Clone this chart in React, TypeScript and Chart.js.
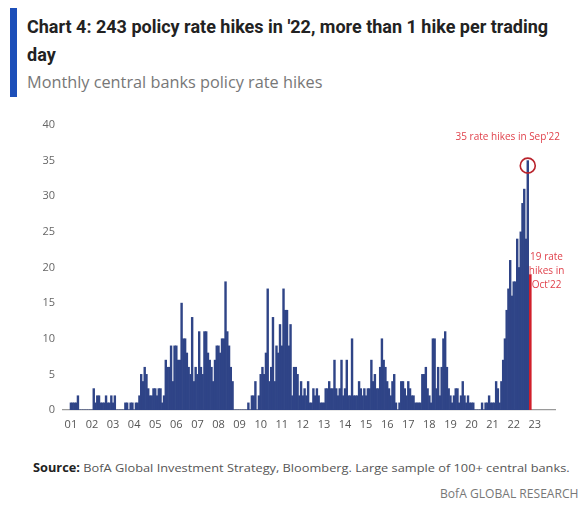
import React, { useEffect, useLayoutEffect, useRef, useState } from "react";
import { Chart, registerables } from "chart.js";

Chart.register(...registerables);

// ---- data: monthly central bank policy rate hikes, Jan 2001 .. Oct 2022 ----
const hikes2001 = [1, 1, 1, 1, 2, 0, 0, 0, 0, 0, 0, 0];
const hikes2002 = [0, 3, 1, 2, 2, 1, 1, 1, 2, 1, 1, 2];
const hikes2003 = [1, 2, 0, 0, 0, 0, 0, 1, 1, 0, 1, 1];
const hikes2004 = [0, 1, 1, 2, 5, 4, 6, 5, 3, 2, 2, 3];
const hikes2005 = [3, 2, 3, 3, 1, 2, 7, 6, 6, 9, 4, 9];
const hikes2006 = [9, 7, 7, 15, 10, 10, 8, 6, 5, 13, 4, 6];
const hikes2007 = [5, 11, 6, 5, 11, 11, 8, 7, 6, 4, 7, 9];
const hikes2008 = [9, 8, 10, 10, 18, 11, 9, 6, 4, 0, 0, 0];
const hikes2009 = [0, 0, 0, 0, 0, 1, 0, 2, 2, 4, 0, 2];
const hikes2010 = [5, 6, 5, 8, 17, 4, 6, 13, 4, 9, 8, 12];
const hikes2011 = [9, 17, 14, 14, 9, 12, 2, 6, 6, 5, 2, 4];
const hikes2012 = [2, 3, 2, 4, 1, 1, 3, 2, 3, 2, 1, 1];
const hikes2013 = [1, 3, 3, 4, 3, 3, 7, 3, 2, 3, 7, 2];
const hikes2014 = [3, 7, 2, 2, 10, 2, 2, 2, 4, 3, 2, 3];
const hikes2015 = [2, 3, 3, 7, 4, 5, 3, 3, 6, 10, 7, 6];
const hikes2016 = [4, 3, 2, 4, 5, 1, 0, 1, 4, 4, 3, 2];
const hikes2017 = [4, 3, 2, 2, 1, 1, 1, 1, 5, 5, 6, 3];
const hikes2018 = [2, 1, 10, 10, 3, 6, 2, 6, 10, 11, 6, 3];
const hikes2019 = [2, 1, 2, 3, 3, 1, 2, 4, 2, 1, 2, 1];
const hikes2020 = [1, 1, 0, 0, 0, 0, 1, 0, 1, 1, 2, 1];
const hikes2021 = [1, 1, 4, 3, 1, 4, 7, 10, 14, 17, 21, 16];
const hikes2022 = [18, 18, 24, 20, 25, 29, 31, 24, 35, 19];

const yearTickLabels = [
  "01", "02", "03", "04", "05", "06", "07", "08", "09", "10", "11", "12",
  "13", "14", "15", "16", "17", "18", "19", "20", "21", "22", "23",
];
const yTickValues = [0, 5, 10, 15, 20, 25, 30, 35, 40];

const peakText = "35 rate hikes in Sep'22";
const lastTextLines = ["19 rate", "hikes in", "Oct'22"];

const titleLine1 = "Chart 4: 243 policy rate hikes in '22, more than 1 hike per trading";
const titleLine2 = "day";
const subtitleText = "Monthly central banks policy rate hikes";
const sourceBold = "Source:";
const sourceRest = " BofA Global Investment Strategy, Bloomberg. Large sample of 100+ central banks.";
const footerText = "BofA GLOBAL RESEARCH";

const monthly: number[] = [
  ...hikes2001, ...hikes2002, ...hikes2003, ...hikes2004, ...hikes2005,
  ...hikes2006, ...hikes2007, ...hikes2008, ...hikes2009, ...hikes2010,
  ...hikes2011, ...hikes2012, ...hikes2013, ...hikes2014, ...hikes2015,
  ...hikes2016, ...hikes2017, ...hikes2018, ...hikes2019, ...hikes2020,
  ...hikes2021, ...hikes2022,
];

const lastIndex = monthly.length - 1; // Oct 2022
const peakIndex = lastIndex - 1; // Sep 2022

const BAR_BLUE = "#2f4487";
const BAR_RED = "#d11f2b";
const ANNOT_RED = "#e0414b";
const SANS = '"Open Sans", "Noto Sans", sans-serif';

function FitLines({
  lines,
  width,
  style,
  lineHeight,
}: {
  lines: React.ReactNode[];
  width: number;
  style: React.CSSProperties;
  lineHeight: number;
}) {
  const ref = useRef<HTMLSpanElement>(null);
  const [scale, setScale] = useState(1);
  useLayoutEffect(() => {
    const el = ref.current;
    if (!el) return;
    const w = el.offsetWidth;
    if (w > 0) setScale(width / w);
  }, [width]);
  return (
    <div style={{ ...style, lineHeight: `${lineHeight}px`, whiteSpace: "nowrap" }}>
      {lines.map((ln, k) => (
        <div key={k} style={{ height: lineHeight }}>
          <span
            ref={k === 0 ? ref : undefined}
            style={{
              display: "inline-block",
              transformOrigin: "left center",
              transform: `scaleX(${scale})`,
            }}
          >
            {ln}
          </span>
        </div>
      ))}
    </div>
  );
}

const annotationPlugin = {
  id: "rateAnnotations",
  afterDatasetsDraw(chart: any) {
    const { ctx, scales } = chart;
    const xs = scales.x;
    const ys = scales.y;
    const px = xs.getPixelForValue(peakIndex);
    const py = ys.getPixelForValue(monthly[peakIndex]);
    const lx = xs.getPixelForValue(lastIndex);
    const ly = ys.getPixelForValue(monthly[lastIndex]);
    ctx.save();
    ctx.strokeStyle = "#b9232c";
    ctx.lineWidth = 1.6;
    ctx.beginPath();
    ctx.arc(px, py + 5, 7.5, 0, Math.PI * 2);
    ctx.stroke();
    ctx.fillStyle = ANNOT_RED;
    ctx.font = `10px ${SANS}`;
    ctx.textAlign = "center";
    ctx.textBaseline = "middle";
    ctx.fillText(peakText, px - 20, py - 23);
    lastTextLines.forEach((t, k) => {
      ctx.fillText(t, lx + 17, ly - 17 + k * 14);
    });
    ctx.restore();
  },
};

function RateChart() {
  const canvasRef = useRef<HTMLCanvasElement>(null);
  useEffect(() => {
    const canvas = canvasRef.current;
    if (!canvas) return;
    const blueData = monthly.map((v, i) => ({ x: i, y: i === lastIndex ? null : v }));
    const redData = [{ x: lastIndex, y: monthly[lastIndex] }];
    const tickFont = { family: SANS, size: 11 };
    const chart = new Chart(canvas, {
      type: "bar",
      data: {
        datasets: [
          {
            data: blueData as any,
            backgroundColor: BAR_BLUE,
            barPercentage: 1,
            categoryPercentage: 1,
            grouped: false,
          } as any,
          {
            data: redData as any,
            backgroundColor: BAR_RED,
            barThickness: 3.5,
            grouped: false,
          } as any,
        ],
      },
      options: {
        animation: false,
        responsive: false,
        maintainAspectRatio: false,
        layout: { autoPadding: false, padding: { left: 0, right: 28, top: 25, bottom: 0 } },
        plugins: {
          legend: { display: false },
          tooltip: { enabled: false },
        },
        scales: {
          x: {
            type: "linear",
            offset: false,
            min: -4.5,
            max: 275.5,
            grid: { display: false, drawTicks: false, offset: false },
            border: { display: true, color: "#9a9a9a", width: 1.2 },
            afterBuildTicks: (s: any) => {
              s.ticks = yearTickLabels.map((_, k) => ({ value: k * 12 }));
            },
            afterFit: (s: any) => {
              s.height = 30;
            },
            ticks: {
              autoSkip: false,
              maxRotation: 0,
              color: "#555",
              font: tickFont,
              padding: 8,
              callback: (_v: any, idx: number) => yearTickLabels[idx],
            },
          },
          y: {
            min: 0,
            max: 40,
            grid: { display: false, drawTicks: false },
            border: { display: false },
            afterBuildTicks: (s: any) => {
              s.ticks = yTickValues.map((v) => ({ value: v }));
            },
            afterFit: (s: any) => {
              s.width = 63;
            },
            ticks: {
              color: "#666",
              font: tickFont,
              padding: 8,
            },
          },
        },
      } as any,
      plugins: [annotationPlugin],
    });
    return () => chart.destroy();
  }, []);
  return (
    <canvas
      ref={canvasRef}
      width={583}
      height={340}
      style={{ position: "absolute", left: 0, top: 100, width: 583, height: 340 }}
    />
  );
}

export default function App() {
  return (
    <div
      style={{
        position: "absolute",
        left: 0,
        top: 0,
        width: 583,
        height: 506,
        background: "#fff",
        overflow: "hidden",
        fontFamily: SANS,
      }}
    >
      <div style={{ position: "absolute", left: 10, top: 8, width: 7, height: 89, background: "#1d4fb9" }} />
      <FitLines
        lines={[titleLine1, titleLine2]}
        width={521}
        lineHeight={28}
        style={{
          position: "absolute",
          left: 27,
          top: 13,
          fontFamily: 'Roboto, "Open Sans", sans-serif',
          fontWeight: 700,
          fontSize: 19,
          color: "#222",
        }}
      />
      <FitLines
        lines={[subtitleText]}
        width={296}
        lineHeight={22}
        style={{
          position: "absolute",
          left: 27,
          top: 71,
          fontSize: 16,
          color: "#777",
        }}
      />
      <RateChart />
      <FitLines
        lines={[
          <>
            <span style={{ fontWeight: 700, color: "#222" }}>{sourceBold}</span>
            <span>{sourceRest}</span>
          </>,
        ]}
        width={537}
        lineHeight={16}
        style={{ position: "absolute", left: 33, top: 460, fontSize: 11.5, color: "#555" }}
      />
      <FitLines
        lines={[footerText]}
        width={138}
        lineHeight={16}
        style={{ position: "absolute", left: 440, top: 486, fontSize: 12, color: "#777" }}
      />
    </div>
  );
}
